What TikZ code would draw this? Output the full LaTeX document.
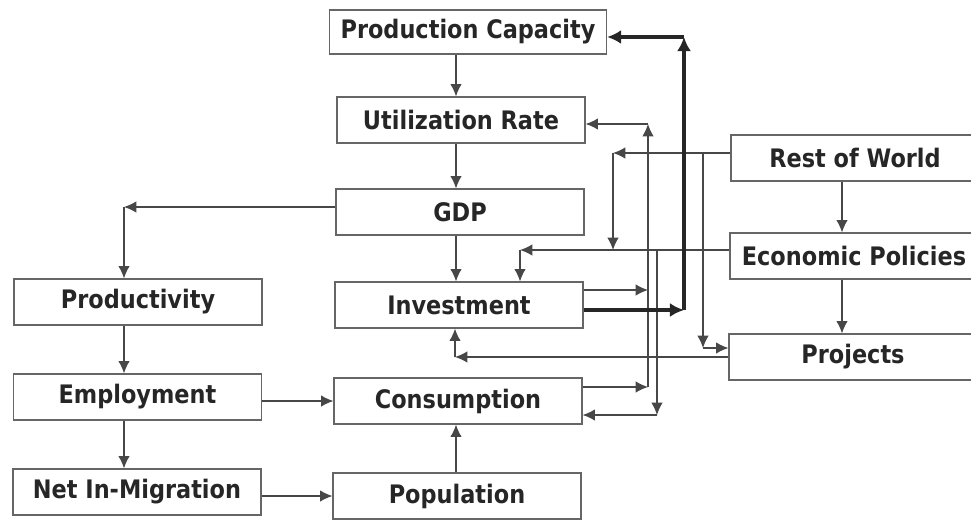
\documentclass[tikz,border=0pt]{standalone}
\usepackage{fontspec}
\setmainfont{DejaVu Sans}[FakeStretch=0.88]
\usetikzlibrary{arrows.meta}
\begin{document}
\begin{tikzpicture}[x=0.02cm, y=-0.02cm, line width=0.7pt, color=black!72, >={Latex[length=7pt, width=6.5pt]}]
        \useasboundingbox (0, 0) rectangle (971, 521);
        %nodes
        \begin{scope}[every node/.style = {draw=black!60, minimum width=4.96cm, minimum height=0.92cm, text=black!85, font=\fontsize{14.5}{16}\selectfont\bfseries}]
          \node[minimum width=5.54cm, minimum height=0.88cm] (prodcap) at (468, 32) {Production Capacity};
          \node (util) at (461, 120) {Utilization Rate};
          \node (gdp) at (460, 212) {GDP};
          \node (invest) at (459, 305) {Investment};
          \node (cons) at (458, 401) {Consumption};
          \node (pop) at (457, 496) {Population};
          \node (prod) at (138, 302) {Productivity};
          \node (emp) at (137.5, 397) {Employment};
          \node (netmig) at (137, 492) {Net In-Migration};
          \node (rest) at (855, 158) {Rest of World};
          \node (policy) at (854, 256) {Economic Policies};
          \node (projects) at (853, 357) {Projects};
        \end{scope}
        %lanes
        \coordinate (lmid) at (456, 0);
        \coordinate (lleft) at (124, 207);
        \coordinate (lright) at (842, 0);
        \coordinate (t1) at (684, 310);
        \coordinate (t2) at (684, 37);
        \coordinate (finv) at (648, 290);
        \coordinate (fcons) at (648, 387);
        \coordinate (ftop) at (648, 124);
        \coordinate (r1) at (613, 153);
        \coordinate (r2) at (703, 153);
        \coordinate (r3) at (703, 348);
        \coordinate (e1) at (520, 250);
        \coordinate (e2) at (657, 250);
        \coordinate (e3) at (657, 415);
        \coordinate (p1) at (455, 357);
        %edges
        \path [draw,->] (prodcap.south -| lmid) to (util.north -| lmid);
        \path [draw,->] (util.south -| lmid) to (gdp.north -| lmid);
        \path [draw,->] (gdp.south -| lmid) to (invest.north -| lmid);
        \path [draw,->] (pop.north -| lmid) to (cons.south -| lmid);
        \path [draw,->] (gdp.west |- lleft) to (lleft);
        \path [draw,->] (lleft) to (prod.north -| lleft);
        \path [draw,->] (prod.south -| lleft) to (emp.north -| lleft);
        \path [draw,->] (emp.south -| lleft) to (netmig.north -| lleft);
        \path [draw,->] (emp.east |- cons.west) to (cons.west);
        \path [draw,->] (netmig.east |- pop.west) to (pop.west);
        \path [draw,->] (rest.south -| lright) to (policy.north -| lright);
        \path [draw,->] (policy.south -| lright) to (projects.north -| lright);
        % feedback
        \path [draw,->] (invest.east |- finv) to (finv);
        \path [draw,->] (cons.east |- fcons) to (fcons);
        \path [draw,->] (fcons) to (ftop);
        \path [draw,->] (ftop) to (util.east |- ftop);
        \path [draw,->] (rest.west |- r1) to (r1);
        \path [draw,->] (r1) to (r1 |- e1);
        \path [draw,->] (r2) to (r3);
        \path [draw,->] (r3) to (projects.west |- r3);
        \path [draw,->] (policy.west |- e1) to (e1);
        \path [draw,->] (e1) to (invest.north -| e1);
        \path [draw,->] (e2) to (e3);
        \path [draw,->] (e3) to (cons.east |- e3);
        \path [draw,->] (projects.west |- p1) to (p1);
        \path [draw,->] (p1) to (invest.south -| p1);
        % capacity
        \begin{scope}[line width=2pt, black!85, >={Latex[length=8pt, width=8pt]}]
          \path [draw,->] (invest.east |- t1) to (t1);
          \path [draw,->] (t1) to (t2);
          \path [draw,->] (t2) to (prodcap.east |- t2);
        \end{scope}
      \end{tikzpicture}
\end{document}
